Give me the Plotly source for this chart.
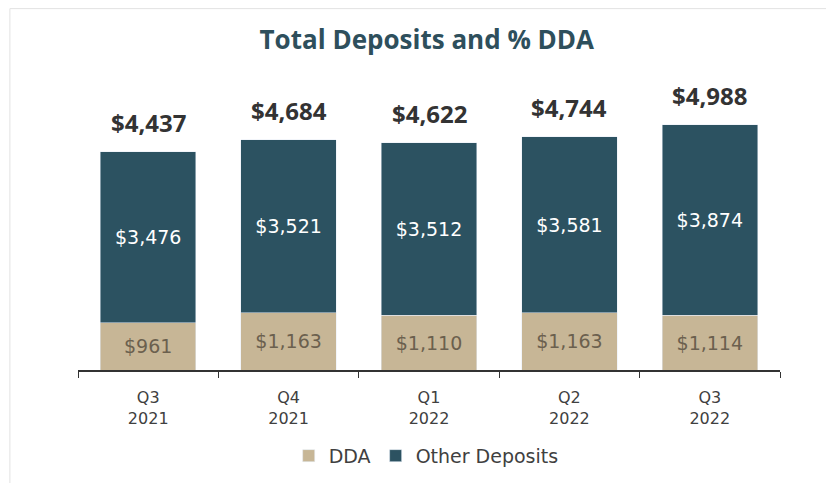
import plotly.graph_objects as go

quarters = ["Q3<br>2021", "Q4<br>2021", "Q1<br>2022", "Q2<br>2022", "Q3<br>2022"]
dda = [961, 1163, 1110, 1163, 1114]
other_deposits = [3476, 3521, 3512, 3581, 3874]
totals = [4437, 4684, 4622, 4744, 4988]

TAN = "#C7B696"
TEAL = "#2C5261"
TEXT = "#404040"
FONT = "DejaVu Sans"

fig = go.Figure()

fig.add_trace(go.Bar(
    x=quarters, y=dda, name="DDA", marker_color=TAN,
    text=[f"${v:,}" for v in dda], textposition="inside", insidetextanchor="middle",
    textfont=dict(color="#6B604E", size=19, family=FONT),
    width=0.68,
))
fig.add_trace(go.Bar(
    x=quarters, y=other_deposits, name="Other Deposits", marker_color=TEAL,
    text=[f"${v:,}" for v in other_deposits], textposition="inside", insidetextanchor="middle",
    textfont=dict(color="white", size=19, family=FONT),
    width=0.68,
))

# total labels above each stack
for q, t in zip(quarters, totals):
    fig.add_annotation(
        x=q, y=t, text=f"<b>${t:,}</b>", showarrow=False,
        yanchor="bottom", yshift=11,
        font=dict(size=24, color="#333333", family="Open Sans"),
    )

# light frame around the chart
fig.add_shape(
    type="rect", xref="paper", yref="paper",
    x0=-0.097, x1=1.09, y0=-0.45, y1=1.268,
    line=dict(color="#E2E2E2", width=1), fillcolor="rgba(0,0,0,0)",
)

fig.update_layout(
    barmode="stack",
    width=826, height=475,
    margin=dict(l=70, r=54, t=77, b=113, autoexpand=False),
    paper_bgcolor="white", plot_bgcolor="white",
    title=dict(
        text="<b>Total Deposits and % DDA</b>",
        x=0.507, xanchor="center", y=1 - 32 / 475, yanchor="middle",
        font=dict(size=26, color="#2E4F5C", family="Open Sans"),
    ),
    showlegend=True,
    legend=dict(
        orientation="h", x=0.496, xanchor="center", y=-0.301, yanchor="middle",
        font=dict(size=19, color=TEXT, family=FONT),
        itemwidth=30, traceorder="normal",
    ),
    uniformtext=dict(mode=False),
)

fig.update_xaxes(
    showline=True, linecolor="#333333", linewidth=1.5,
    ticks="outside", tickson="boundaries", ticklen=6, tickcolor="#333333",
    tickfont=dict(size=16, color=TEXT, family=FONT),
    ticklabelstandoff=12, automargin=False,
    range=[-0.5, 4.5], showgrid=False,
)
fig.update_yaxes(visible=False, range=[0, 5800], showgrid=False)

fig.write_html("out.html")
